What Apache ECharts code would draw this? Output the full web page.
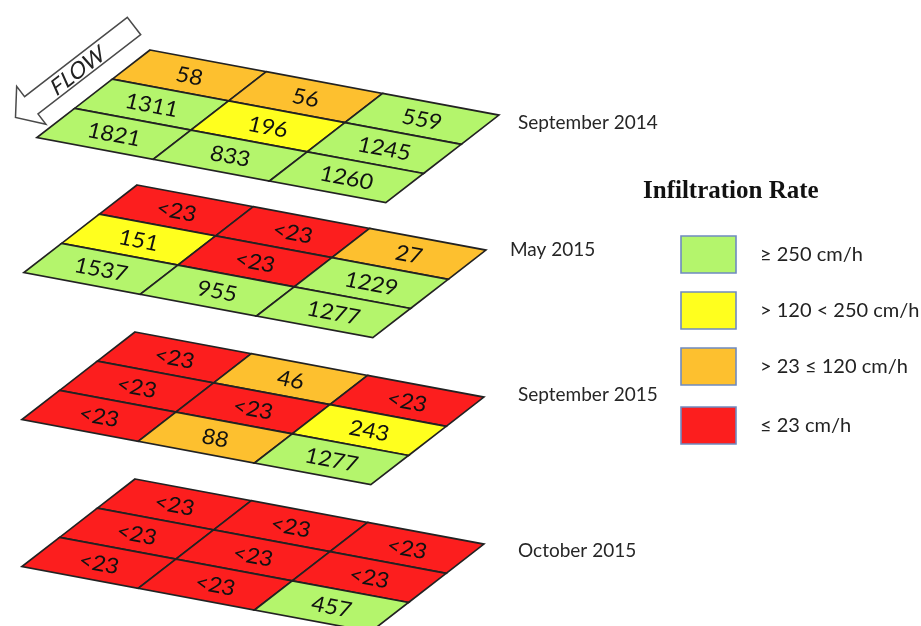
<!DOCTYPE html>
<html><head><meta charset="utf-8">
<script src="https://cdn.jsdelivr.net/npm/echarts@6/dist/echarts.min.js"></script>
<style>html,body{margin:0;padding:0;background:#fff}#c{width:921px;height:626px}</style>
</head><body><div id="c"></div>
<script>
// ---- data ----
const layerNames = ['September 2014', 'May 2015', 'September 2015', 'October 2015'];
const sep2014 = [[58, 56, 559], [1311, 196, 1245], [1821, 833, 1260]];
const may2015 = [['<23', '<23', 27], [151, '<23', 1229], [1537, 955, 1277]];
const sep2015 = [['<23', 46, '<23'], ['<23', '<23', 243], ['<23', 88, 1277]];
const oct2015 = [['<23', '<23', '<23'], ['<23', '<23', '<23'], ['<23', '<23', 457]];
const legendTitle = 'Infiltration Rate';
const classLabels = ['≥ 250 cm/h', '> 120 < 250 cm/h', '> 23 ≤ 120 cm/h', '≤ 23 cm/h'];
const flowLabel = 'FLOW';

// ---- styles / layout ----
const classColors = ['#b4f56c', '#ffff1e', '#fdc02f', '#fc1e1e'];
const layerOrigin = [[150, 50], [137, 185], [135, 332], [135, 479]];
const colStep = [116.3, 21.7];
const rowStep = [-37.7, 29.2];
const angle = Math.atan2(colStep[1], colStep[0]);
const italicSkew = -0.24;

function classOf(v) {
  if (v === '<23') return 3;
  if (v >= 250) return 0;
  if (v > 120) return 1;
  if (v > 23) return 2;
  return 3;
}

const layerValues = [sep2014, may2015, sep2015, oct2015];
const cells = [];
layerValues.forEach((grid, L) => grid.forEach((row, r) => row.forEach((v, c) => cells.push({ L, r, c, v }))));
const seriesData = cells.map(d => [d.L, d.r, d.c, classOf(d.v)]);

function renderItem(params, api) {
  const L = api.value(0), r = api.value(1), c = api.value(2), k = api.value(3);
  const o = layerOrigin[L];
  const pt = (cc, rr) => api.coord([o[0] + cc * colStep[0] + rr * rowStep[0], o[1] + cc * colStep[1] + rr * rowStep[1]]);
  const poly = [pt(c, r), pt(c + 1, r), pt(c + 1, r + 1), pt(c, r + 1)];
  const ctr = pt(c + 0.5, r + 0.5);
  return {
    type: 'group',
    children: [
      { type: 'polygon', shape: { points: poly }, style: { fill: classColors[k], stroke: '#222', lineWidth: 1.7 } },
      {
        type: 'text', x: ctr[0], y: ctr[1] + 1, skewY: -angle, skewX: italicSkew, scaleX: 1.08,
        style: { text: String(cells[params.dataIndex].v), fill: '#111', font: '21px Lato, "Open Sans", sans-serif', align: 'center', verticalAlign: 'middle' }
      }
    ]
  };
}

// arrow geometry
const T = [134, 26], d = [-0.79, 0.61], n = [0.61, 0.79];
const shaftHalf = 11, headHalf = 24, shaftLen = 130, headLen = 20;
const B = [T[0] + d[0] * shaftLen, T[1] + d[1] * shaftLen];
const P = (base, s) => [base[0] + n[0] * s, base[1] + n[1] * s];
const arrowPts = [P(T, -shaftHalf), P(B, -shaftHalf), P(B, -headHalf), [B[0] + d[0] * headLen, B[1] + d[1] * headLen], P(B, headHalf), P(B, shaftHalf), P(T, shaftHalf)];
const flowCtr = [T[0] + d[0] * 72 + 1, T[1] + d[1] * 72 + 1];

const labelFont = 'Lato, "Open Sans", "DejaVu Sans", sans-serif';
const layerLabelPos = [[518, 123], [510, 250], [518, 395], [518, 551]];
const graphics = [
  { type: 'polygon', shape: { points: arrowPts }, style: { fill: '#fff', stroke: '#4a4a4a', lineWidth: 1.5 }, z: 10 },
  { type: 'text', x: flowCtr[0], y: flowCtr[1], rotation: Math.atan2(d[1], -d[0]), skewX: italicSkew, style: { text: flowLabel, font: '22px ' + labelFont, fill: '#222', align: 'center', verticalAlign: 'middle' }, z: 11 },
  { type: 'text', left: 643, top: 179, style: { text: legendTitle, font: 'bold 25px "Liberation Serif", "DejaVu Serif", serif', fill: '#111' } }
];
layerNames.forEach((name, i) => graphics.push({
  type: 'text', x: layerLabelPos[i][0], y: layerLabelPos[i][1],
  style: { text: name, font: '19px ' + labelFont, fill: '#262626', verticalAlign: 'middle' }
}));
const boxTops = [236, 292, 348, 407];
classLabels.forEach((lab, i) => {
  graphics.push({ type: 'rect', shape: { x: 681, y: boxTops[i], width: 55, height: 37 }, style: { fill: classColors[i], stroke: '#6f8ac0', lineWidth: 1.6 } });
  graphics.push({ type: 'text', x: 760, y: boxTops[i] + 19, style: { text: lab, font: '20px ' + labelFont, fill: '#222', verticalAlign: 'middle' } });
});

const chart = echarts.init(document.getElementById('c'));
chart.setOption({
  animation: false,
  backgroundColor: '#fff',
  grid: { left: 0, right: 0, top: 0, bottom: 0 },
  xAxis: { type: 'value', min: 0, max: 921, show: false },
  yAxis: { type: 'value', min: 0, max: 626, inverse: true, show: false },
  series: [{
    type: 'custom',
    renderItem: renderItem,
    data: seriesData,
    encode: { x: 0, y: 1 }
  }],
  graphic: graphics
});
</script>
</body></html>
